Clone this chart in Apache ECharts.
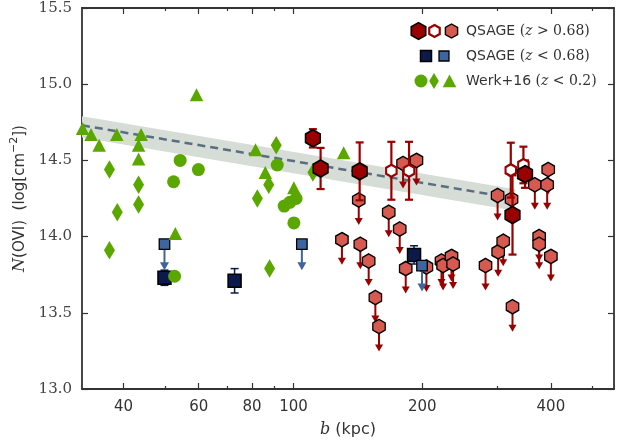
<!DOCTYPE html>
<html><head><meta charset="utf-8">
<script src="https://cdn.jsdelivr.net/npm/echarts@6/dist/echarts.min.js"></script>
<style>html,body{margin:0;padding:0;background:#fff}#c{width:628px;height:445px}</style>
</head><body><div id="c"></div>
<script>
// ---------- data ----------
const xMajorTicks = [40, 60, 80, 100, 200, 400];
const xMinorTicks = [50, 70, 90, 300, 500];
const yTicks = [13.0, 13.5, 14.0, 14.5, 15.0, 15.5];

// QSAGE z>0.68 detections (dark hexagons)
const qHiDetB = [111.0, 115.7, 142.8, 348, 325.3];
const qHiDetN = [14.645, 14.447, 14.428, 14.41, 14.142];
const qHiDetErr = [0.06, 0.135, 0.19, 0.09, 0.26];
// QSAGE z>0.68 open hexagons
const qHiOpenB = [169.4, 186.3, 322.3, 345];
const qHiOpenN = [14.432, 14.432, 14.436, 14.47];
const qHiOpenErr = [0.19, 0.19, 0.18, 0.12];
// QSAGE z>0.68 upper limits (light hexagons)
const qHiUlB = [129.8, 142.1, 143.3, 149.9, 155.4, 158.5, 167.0, 177.2, 180.4, 183.0, 193.9, 204.6, 221.9, 223.8, 234.2, 236.2, 281.3, 300.2, 301.1, 309.4, 323.6, 325.3, 366.9, 375.5, 375.5, 392.1, 394.3, 400];
const qHiUlN = [13.98, 14.24, 13.95, 13.84, 13.60, 13.41, 14.16, 14.05, 14.48, 13.79, 14.50, 13.80, 13.84, 13.81, 13.87, 13.82, 13.81, 14.27, 13.90, 13.97, 14.245, 13.54, 14.34, 14.00, 13.95, 14.34, 14.44, 13.87];

// QSAGE z<0.68 detections (navy squares)
const qLoDetB = [49.9, 72.8, 191.4];
const qLoDetN = [13.73, 13.71, 13.88];
const qLoDetErr = [0.05, 0.08, 0.06];
// QSAGE z<0.68 upper limits (light blue squares)
const qLoUlB = [49.9, 104.6, 199.8];
const qLoUlN = [13.95, 13.95, 13.81];

// Werk+16
const werkCircB = [52.4, 54.3, 59.9, 52.7, 91.6, 95.1, 98.0, 101.4, 100.2];
const werkCircN = [14.36, 14.50, 14.44, 13.74, 14.47, 14.20, 14.225, 14.25, 14.09];
const werkDiaB = [37.1, 37.1, 38.7, 43.4, 43.4, 82.3, 87.5, 87.9, 91.1, 111.0];
const werkDiaN = [14.44, 13.91, 14.16, 14.34, 14.21, 14.25, 14.34, 13.79, 14.60, 14.42];
const werkTriB = [32.1, 33.6, 35.1, 38.6, 43.4, 44.0, 43.4, 52.9, 59.3, 81.5, 85.9, 100.2, 131.0];
const werkTriN = [14.71, 14.67, 14.60, 14.67, 14.51, 14.67, 14.60, 14.02, 14.93, 14.57, 14.42, 14.32, 14.55];

// fit line and band
const fitB = [32, 330];
const fitN = [14.73, 14.25];
const bandLo = [14.65, 14.17];
const bandHi = [14.79, 14.31];

// ---------- styles ----------
const C = {
  darkRed: '#990000', lightRed: '#d65a50', navy: '#0b1a4a', lightBlue: '#3f65a0',
  green: '#5aa700', band: '#d6dcd6', fit: '#5b6e80', axis: '#333'
};
const HEX = 'path://M0,-10L8.66,-5L8.66,5L0,10L-8.66,5L-8.66,-5Z';
const zip = (a, b, c) => a.map((v, i) => c ? [v, b[i], c[i]] : [v, b[i]]);

function errRender(color, lw, cap) {
  return function (params, api) {
    const b = api.value(0), n = api.value(1), e = api.value(2);
    const t = api.coord([b, n + e]), d = api.coord([b, n - e]);
    const st = { stroke: color, lineWidth: lw };
    return { type: 'group', children: [
      { type: 'line', shape: { x1: t[0], y1: t[1], x2: d[0], y2: d[1] }, style: st },
      { type: 'line', shape: { x1: t[0] - cap, y1: t[1], x2: t[0] + cap, y2: t[1] }, style: st },
      { type: 'line', shape: { x1: d[0] - cap, y1: d[1], x2: d[0] + cap, y2: d[1] }, style: st }
    ] };
  };
}
function arrowRender(color, len, hw, hh, lw) {
  return function (params, api) {
    const p = api.coord([api.value(0), api.value(1)]);
    const tip = p[1] + len;
    return { type: 'group', children: [
      { type: 'line', shape: { x1: p[0], y1: p[1], x2: p[0], y2: tip - hh + 1 }, style: { stroke: color, lineWidth: lw } },
      { type: 'polygon', shape: { points: [[p[0] - hw / 2, tip - hh], [p[0] + hw / 2, tip - hh], [p[0], tip]] }, style: { fill: color } }
    ] };
  };
}
function bandRender(params, api) {
  const i = params.dataIndex;
  if (i >= fitB.length - 1) return null;
  const a1 = api.coord([fitB[i], bandLo[i]]), a2 = api.coord([fitB[i + 1], bandLo[i + 1]]);
  const b2 = api.coord([fitB[i + 1], bandHi[i + 1]]), b1 = api.coord([fitB[i], bandHi[i]]);
  return { type: 'polygon', shape: { points: [a1, a2, b2, b1] }, style: { fill: C.band } };
}
function hexPts(cx, cy, w, h) {
  return [[cx, cy - h / 2], [cx + w / 2, cy - h / 4], [cx + w / 2, cy + h / 4], [cx, cy + h / 2], [cx - w / 2, cy + h / 4], [cx - w / 2, cy - h / 4]];
}

const logX = (extra) => Object.assign({
  type: 'log', logBase: 10, min: 32, max: 562, gridIndex: 0,
  splitLine: { show: false }, minorTick: { show: false }
}, extra);
const tickStyle = { color: C.axis, width: 1.2 };

const xAxis = [
  logX({ position: 'bottom',
    axisLine: { show: true, lineStyle: { color: C.axis, width: 1.8 } },
    axisTick: { show: true, inside: true, length: 6, customValues: xMajorTicks, lineStyle: tickStyle },
    axisLabel: { show: true, customValues: xMajorTicks, formatter: v => String(Math.round(v)),
      fontFamily: 'DejaVu Sans', fontSize: 15, color: '#333', margin: 11 },
    name: '{i|b}{s| (kpc)}', nameLocation: 'middle', nameGap: 33,
    nameTextStyle: { rich: {
      i: { fontFamily: 'DejaVu Serif', fontStyle: 'italic', fontSize: 16, color: '#333' },
      s: { fontFamily: 'DejaVu Sans', fontSize: 16, color: '#333' } } } }),
  logX({ position: 'bottom', axisLine: { show: false },
    axisTick: { show: true, inside: true, length: 3, customValues: xMinorTicks, lineStyle: tickStyle },
    axisLabel: { show: false } }),
  logX({ position: 'top',
    axisLine: { show: true, lineStyle: { color: C.axis, width: 1.8 } },
    axisTick: { show: true, inside: true, length: 6, customValues: xMajorTicks, lineStyle: tickStyle },
    axisLabel: { show: false } }),
  logX({ position: 'top', axisLine: { show: false },
    axisTick: { show: true, inside: true, length: 3, customValues: xMinorTicks, lineStyle: tickStyle },
    axisLabel: { show: false } })
];
const yAxis = [
  { type: 'value', min: 13, max: 15.5, interval: 0.5, position: 'left',
    axisLine: { show: true, lineStyle: { color: C.axis, width: 1.8 } },
    axisTick: { show: true, inside: true, length: 6, lineStyle: tickStyle },
    axisLabel: { formatter: v => v.toFixed(1), fontFamily: 'DejaVu Serif', fontSize: 15, color: '#444', margin: 10 },
    splitLine: { show: false },
    name: '{i|N}{s|(OVI)  (log[cm}{p|−2}{s|])}', nameLocation: 'middle', nameGap: 47, nameRotate: 90,
    nameTextStyle: { rich: {
      i: { fontFamily: 'DejaVu Serif', fontStyle: 'italic', fontSize: 16, color: '#333', lineHeight: 22 },
      s: { fontFamily: 'DejaVu Sans', fontSize: 15, color: '#333', lineHeight: 22 },
      p: { fontFamily: 'DejaVu Sans', fontSize: 11, color: '#333', lineHeight: 11, verticalAlign: 'top' } } } },
  { type: 'value', min: 13, max: 15.5, interval: 0.5, position: 'right',
    axisLine: { show: true, lineStyle: { color: C.axis, width: 1.8 } },
    axisTick: { show: true, inside: true, length: 6, lineStyle: tickStyle },
    axisLabel: { show: false }, splitLine: { show: false } }
];

const series = [
  { type: 'custom', name: 'band', z: 1, renderItem: bandRender, data: zip(fitB, bandLo), encode: { x: 0, y: 1 }, silent: true },
  { type: 'line', name: 'fit', z: 2, data: zip(fitB, fitN), symbol: 'none',
    lineStyle: { color: C.fit, width: 2.5, type: [8, 5] }, silent: true },
  // light red upper limits
  { type: 'custom', z: 3, renderItem: arrowRender(C.darkRed, 25, 8, 7, 2), data: zip(qHiUlB, qHiUlN), encode: { x: 0, y: 1 } },
  { type: 'scatter', z: 3, data: zip(qHiUlB, qHiUlN), symbol: HEX, symbolSize: [12.4, 14.3],
    itemStyle: { color: C.lightRed, borderColor: '#000', borderWidth: 1.4, opacity: 1 } },
  // navy detections & light blue limits
  { type: 'custom', z: 4, renderItem: errRender(C.navy, 1.5, 4), data: zip(qLoDetB, qLoDetN, qLoDetErr), encode: { x: 0, y: 1 } },
  { type: 'scatter', z: 4, data: zip(qLoDetB, qLoDetN), symbol: 'rect', symbolSize: 13,
    itemStyle: { color: C.navy, borderColor: '#000', borderWidth: 1.5, opacity: 1 } },
  { type: 'custom', z: 4, renderItem: arrowRender(C.lightBlue, 26, 9, 8, 2), data: zip(qLoUlB, qLoUlN), encode: { x: 0, y: 1 } },
  { type: 'scatter', z: 4, data: zip(qLoUlB, qLoUlN), symbol: 'rect', symbolSize: 10.5,
    itemStyle: { color: C.lightBlue, borderColor: '#000', borderWidth: 1.3, opacity: 1 } },
  // Werk+16
  { type: 'scatter', z: 5, data: zip(werkCircB, werkCircN), symbol: 'circle', symbolSize: 13, itemStyle: { color: C.green, opacity: 1 } },
  { type: 'scatter', z: 5, data: zip(werkDiaB, werkDiaN), symbol: 'diamond', symbolSize: [11, 18.5], itemStyle: { color: C.green, opacity: 1 } },
  { type: 'scatter', z: 5, data: zip(werkTriB, werkTriN), symbol: 'triangle', symbolSize: [13.5, 13], itemStyle: { color: C.green, opacity: 1 } },
  // dark red detections + open
  { type: 'custom', z: 6, renderItem: errRender(C.darkRed, 2.2, 4), data: zip(qHiOpenB, qHiOpenN, qHiOpenErr), encode: { x: 0, y: 1 } },
  { type: 'scatter', z: 6, data: zip(qHiOpenB, qHiOpenN), symbol: HEX, symbolSize: [10.5, 12],
    itemStyle: { color: '#fff', borderColor: C.darkRed, borderWidth: 2.2, opacity: 1 } },
  { type: 'custom', z: 6, renderItem: errRender(C.darkRed, 2.2, 4), data: zip(qHiDetB, qHiDetN, qHiDetErr), encode: { x: 0, y: 1 } },
  { type: 'scatter', z: 6, data: zip(qHiDetB, qHiDetN), symbol: HEX, symbolSize: [14.8, 17],
    itemStyle: { color: C.darkRed, borderColor: '#000', borderWidth: 1.6, opacity: 1 } }
];

// legend (drawn as graphic)
const richLeg = {
  s: { fontFamily: 'DejaVu Sans', fontSize: 14, fill: '#333' },
  m: { fontFamily: 'DejaVu Serif', fontSize: 14, fill: '#333' },
  i: { fontFamily: 'DejaVu Serif', fontStyle: 'italic', fontSize: 14, fill: '#333' }
};
const legendText = [
  '{s|QSAGE }{m|(}{i|z}{m| > 0.68)}',
  '{s|QSAGE }{m|(}{i|z}{m| < 0.68)}',
  '{s|Werk+16 }{m|(}{i|z}{m| < 0.2)}'
];
const legY = [31, 56, 81];
const graphic = [
  { type: 'polygon', shape: { points: hexPts(418.5, legY[0], 14.5, 16.7) }, style: { fill: C.darkRed, stroke: '#000', lineWidth: 1.6 }, z: 100 },
  { type: 'polygon', shape: { points: hexPts(434.5, legY[0], 10.5, 12) }, style: { fill: '#fff', stroke: C.darkRed, lineWidth: 2.2 }, z: 100 },
  { type: 'polygon', shape: { points: hexPts(451.5, legY[0], 12.2, 14) }, style: { fill: C.lightRed, stroke: '#000', lineWidth: 1.4 }, z: 100 },
  { type: 'rect', shape: { x: 420.5, y: legY[1] - 5.5, width: 11, height: 11 }, style: { fill: C.navy, stroke: '#000', lineWidth: 1.5 }, z: 100 },
  { type: 'rect', shape: { x: 439, y: legY[1] - 5, width: 10, height: 10 }, style: { fill: C.lightBlue, stroke: '#000', lineWidth: 1.3 }, z: 100 },
  { type: 'circle', shape: { cx: 421, cy: legY[2], r: 6.5 }, style: { fill: C.green }, z: 100 },
  { type: 'polygon', shape: { points: [[434, legY[2] - 8], [438.8, legY[2]], [434, legY[2] + 8], [429.2, legY[2]]] }, style: { fill: C.green }, z: 100 },
  { type: 'polygon', shape: { points: [[449.5, legY[2] - 6.5], [456.3, legY[2] + 6.3], [442.7, legY[2] + 6.3]] }, style: { fill: C.green }, z: 100 }
].concat(legendText.map((t, k) => ({
  type: 'text', x: 466, y: legY[k], z: 100,
  style: { text: t, rich: richLeg, verticalAlign: 'middle', align: 'left' }
})));

const chart = echarts.init(document.getElementById('c'), null, { renderer: 'canvas' });
chart.setOption({
  animation: false,
  backgroundColor: '#fff',
  grid: { left: 82, right: 14, top: 8, bottom: 56, containLabel: false },
  xAxis: xAxis,
  yAxis: yAxis,
  series: series.map(s => Object.assign({ xAxisIndex: 0, yAxisIndex: 0, clip: true }, s)),
  graphic: graphic
});
</script></body></html>
